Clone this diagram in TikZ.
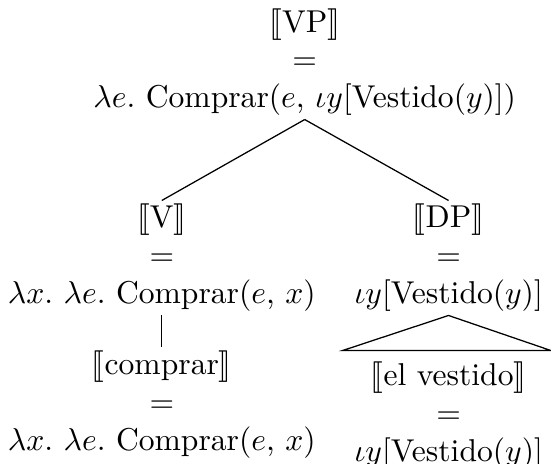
\documentclass[tikz,border=0pt]{standalone}
\usepackage{stmaryrd}
\frenchspacing
\begin{document}
\begin{tikzpicture}[every node/.style={align=center, inner ysep=1pt}]
      \useasboundingbox (0,0) rectangle (6.13,-5.16);
      \node (vp) at (3.39,-0.69) {\( \llbracket \)VP\( \rrbracket \)\\\( = \)\\\( \lambda e \). Comprar(\( e \), \( \iota y \)[Vestido(\( y \))])};
      \node (v) at (1.80,-2.87) {\( \llbracket \)V\( \rrbracket \)\\\( = \)\\\( \lambda x \). \( \lambda e \). Comprar(\( e \), \( x \))};
      \node (dp) at (4.99,-2.87) {\( \llbracket \)DP\( \rrbracket \)\\\( = \)\\\( \iota y \)[Vestido(\( y \))]};
      \node (comprar) at (1.80,-4.50) {\( \llbracket \)comprar\( \rrbracket \)\\\( = \)\\\( \lambda x \). \( \lambda e \). Comprar(\( e \), \( x \))};
      \node (elvestido) at (4.99,-4.62) {\( \llbracket \)el vestido\( \rrbracket \)\\\( = \)\\\( \iota y \)[Vestido(\( y \))]};
      \coordinate (roofL) at (3.81,-3.90);
      \coordinate (roofR) at (6.13,-3.90);

      \draw (vp.south) -- (v.north);
      \draw (vp.south) -- (dp.north);
      \draw (v.south) -- (comprar.north);
      \draw (dp.south) -- (roofL) -- (roofR) -- cycle;
    \end{tikzpicture}
\end{document}
